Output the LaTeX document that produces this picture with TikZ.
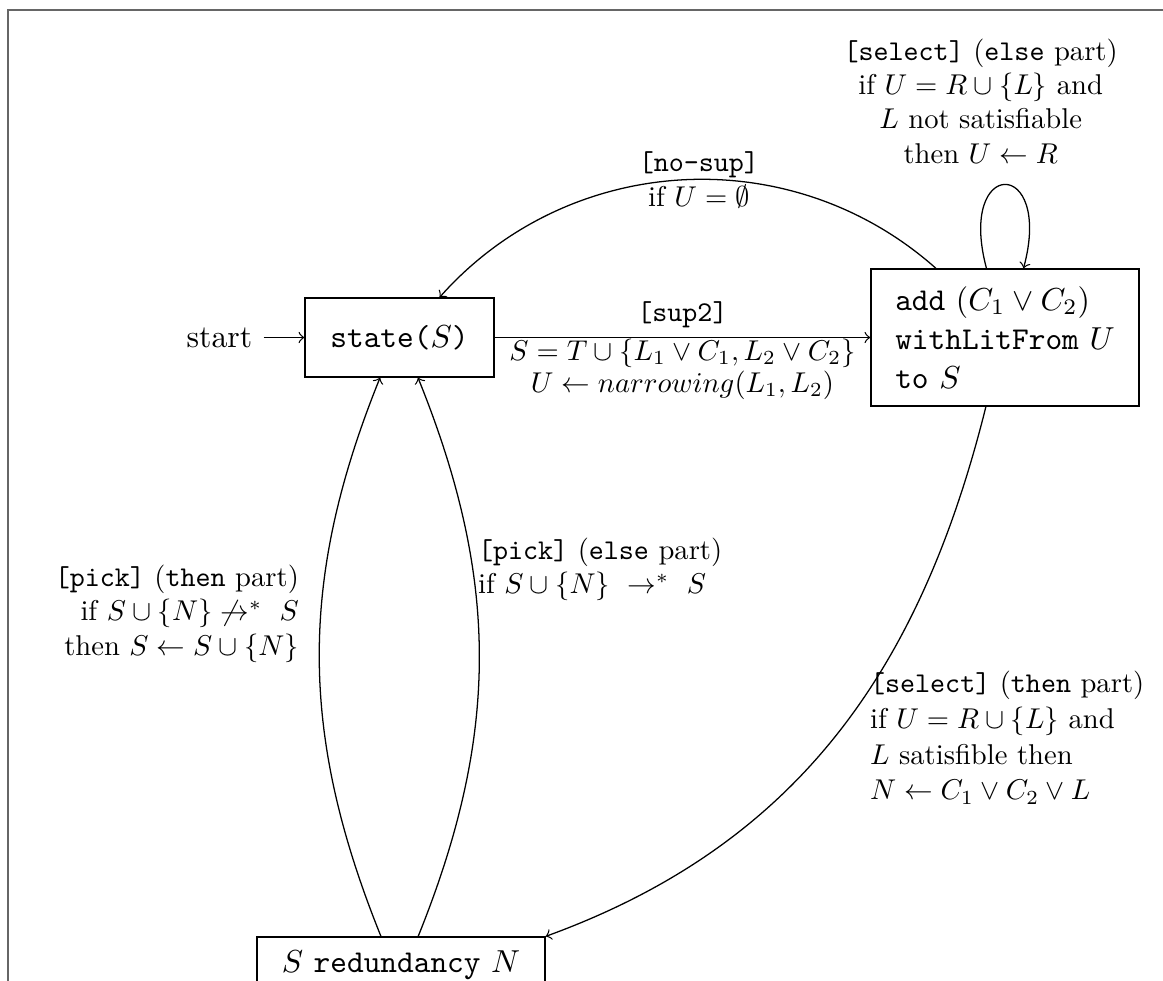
\documentclass[tikz,border=0pt]{standalone}
\usepackage{amsmath,amssymb}
\begin{document}
\begin{tikzpicture}[x=0.3145pt,y=-0.3145pt,
  statebox/.style={draw,rectangle,inner sep=0pt},
  lbl/.style={align=center,scale=0.9,transform shape}]
\useasboundingbox (0,0) rectangle (1163,981);
\clip (0,0) rectangle (1163,981);
% frame
\draw[black!60,line width=0.65pt] (8,990) -- (8,10) -- (1170,10);
% nodes
\node[statebox,minimum width=59.4pt,minimum height=24.8pt] (state) at (399.5,337.5) {\texttt{state(}$S$\texttt{)}};
\node[statebox,minimum width=84.3pt,minimum height=43.1pt,align=left] (add) at (1005,337.5)
  {\texttt{add} $(C_1\vee C_2)$\\[0.3pt] \texttt{withLitFrom} $U$\\[0.3pt] \texttt{to} $S$};
\node[statebox,minimum width=90.6pt,minimum height=17.6pt] (red) at (401,965) {$S$ \texttt{redundancy} $N$};
\node (start) at (219.5,337.5) {start};
% edges
\draw[->] (start) -- (state);
\draw[->] (state) -- node[lbl,above] (lsupa) {\texttt{[sup2]}}
  node[lbl,below,inner sep=0.3pt] (lsupb) {$S=T\cup\{L_1\vee C_1,L_2\vee C_2\}$\\[-0.8pt] $U\leftarrow narrowing(L_1,L_2)$} (add);
\draw[->] (add) to[bend right=45] node[lbl,xshift=6pt] (lnosup) {\texttt{[no-sup]}\\ if $U=\emptyset$} (state);
\draw[->] (add) to[loop above] node[lbl,above,xshift=-8.5pt,yshift=3.8pt] (lselelse)
  {\texttt{[select]} (\texttt{else} part)\\ if $U=R\cup\{L\}$ and\\ $L$ not satisfiable\\ then $U\leftarrow R$} (add);
\draw[->] ([xshift=-6pt]add.south) to[out=256,in=20] (red.north east);
\draw[->] ([xshift=-6.3pt]red.north) to[out=112,in=248] ([xshift=-6.1pt]state.south);
\draw[->] ([xshift=5.4pt]red.north) to[out=68,in=292] ([xshift=5.8pt]state.south);
% labels
\node[lbl,align=left,anchor=north west] (lselthen) at (860,661)
  {\texttt{[select]} (\texttt{then} part)\\[0.5pt] if $U=R\cup\{L\}$ and\\[0.5pt] $L$ satisfible then\\[0.5pt] $N\leftarrow C_1\vee C_2\vee L$};
\node[lbl,align=right,anchor=north east] (lpickthen) at (309,555)
  {\texttt{[pick]} (\texttt{then} part)\\ if $S\cup\{N\}\not\rightarrow^*\ S$\\ then $S\leftarrow S\cup\{N\}$};
\node[lbl,align=left,anchor=north west] (lpickelse) at (468,528)
  {\texttt{[pick]} (\texttt{else} part)\\ if $S\cup\{N\}\ \rightarrow^*\ S$};
\end{tikzpicture}
\end{document}
